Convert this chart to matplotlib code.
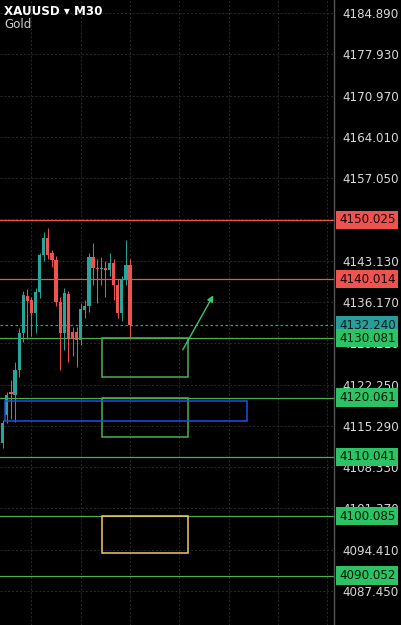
import matplotlib.pyplot as plt
import matplotlib.patches as mpatches

# M30 candles
opens  = [4112.4, 4117.1, 4121.0, 4120.5, 4124.7, 4131.0, 4137.2, 4136.5, 4134.3, 4137.9,
          4144.1, 4147.0, 4144.4, 4143.3, 4136.2, 4131.0, 4137.5, 4131.1, 4131.1, 4129.8,
          4134.8, 4135.5, 4143.8, 4141.9, 4141.8, 4141.9, 4141.6, 4142.8, 4139.0, 4134.3,
          4139.9, 4142.4]
highs  = [4116.2, 4121.0, 4123.0, 4126.0, 4131.8, 4138.0, 4138.4, 4137.0, 4138.5, 4144.5,
          4148.0, 4148.7, 4145.0, 4144.0, 4137.0, 4138.5, 4138.0, 4132.0, 4132.0, 4136.0,
          4136.5, 4144.5, 4146.1, 4143.5, 4143.8, 4143.0, 4144.5, 4143.5, 4140.0, 4140.5,
          4146.6, 4143.5]
lows   = [4111.5, 4115.8, 4116.5, 4116.0, 4123.5, 4129.5, 4130.0, 4130.5, 4131.0, 4136.8,
          4143.0, 4143.5, 4142.0, 4135.5, 4124.7, 4128.0, 4126.0, 4127.0, 4125.2, 4129.0,
          4133.5, 4134.5, 4139.0, 4136.0, 4139.0, 4137.0, 4140.5, 4136.5, 4133.5, 4133.0,
          4139.0, 4130.0]
closes = [4115.8, 4120.5, 4120.6, 4124.7, 4131.0, 4137.4, 4136.3, 4134.3, 4137.9, 4144.1,
          4147.0, 4144.1, 4143.3, 4136.2, 4131.0, 4137.7, 4130.1, 4129.9, 4129.8, 4135.0,
          4135.5, 4143.8, 4141.9, 4141.8, 4141.9, 4141.6, 4142.8, 4139.0, 4134.3, 4139.9,
          4142.4, 4132.24]

last_price = 4132.240
res_levels = [4150.025, 4140.014]
sup_levels = [4130.081, 4120.061, 4110.041, 4100.085, 4090.052]

price_ticks = [4184.890, 4177.930, 4170.970, 4164.010, 4157.050, 4150.090, 4143.130,
               4136.170, 4129.210, 4122.250, 4115.290, 4108.330, 4101.370, 4094.410,
               4087.450]
hidden_ticks = [4150.090]  # fully covered by the 4150.025 tag
time_grid = [7, 19, 31, 43, 55, 67, 79]

# drawn zones: (bar start, bar end, low, high, colour)
zones = [(24.1, 45.2, 4123.53, 4130.08, '#4caf50'),
         (24.1, 45.2, 4113.41, 4120.06, '#4caf50'),
         (0.56, 59.4, 4116.11, 4119.48, '#2150e6'),
         (24.1, 45.2, 4093.86, 4100.09, '#f7c46c')]
arrow_from = (43.5, 4127.7)
arrow_to = (51.6, 4137.7)

up_col = '#26a69a'
dn_col = '#ef5350'
lvl_green = '#4caf50'

fig = plt.figure(figsize=(4.02, 6.25), dpi=100, facecolor='black')
ax = fig.add_axes([0, 0, 334 / 402, 1])
ax.set_facecolor('black')
ax.set_xlim(-0.657, 80.65)
ax.set_ylim(4081.72, 4187.08)

# grid
for p in price_ticks:
    ax.axhline(p, color='#2b2b2b', lw=0.7, ls=(0, (2, 2)), zorder=0)
for t in time_grid:
    ax.axvline(t, color='#2b2b2b', lw=0.7, ls=(0, (2, 2)), zorder=0)

# candles
for i in range(len(opens)):
    col = up_col if closes[i] >= opens[i] else dn_col
    ax.vlines(i, lows[i], highs[i], color=col, lw=0.7, zorder=3)
    lo = min(opens[i], closes[i])
    h = max(abs(closes[i] - opens[i]), 0.12)
    ax.add_patch(mpatches.Rectangle((i - 0.39, lo), 0.78, h, facecolor=col,
                                    edgecolor='none', zorder=4))

# levels
for p in res_levels:
    ax.axhline(p, color=dn_col, lw=0.9, zorder=2)
for p in sup_levels:
    ax.axhline(p, color=lvl_green, lw=0.9, zorder=2)
ax.axhline(last_price, color='#26a69a', lw=0.9, ls=(0, (2, 2)), zorder=2)

# zones
for x0, x1, lo, hi, col in zones:
    ax.add_patch(mpatches.Rectangle((x0, lo), x1 - x0, hi - lo, facecolor='none',
                                    edgecolor=col, lw=1.1, zorder=5))

ax.annotate('', xy=arrow_to, xytext=arrow_from,
            arrowprops=dict(arrowstyle='-|>', color='#3ec46d', lw=1.0,
                            mutation_scale=9), zorder=6)

# price scale on the right
ax.yaxis.tick_right()
ax.set_yticks(price_ticks)
ax.set_yticklabels(['' if p in hidden_ticks else f'{p:.3f}' for p in price_ticks])
ax.tick_params(axis='y', length=0, pad=6, labelsize=8.6, labelcolor='#d8d8d8')
ax.set_xticks([])
for s in ['top', 'left', 'bottom']:
    ax.spines[s].set_visible(False)
ax.spines['right'].set_color('#555555')
ax.spines['right'].set_linewidth(1.0)

ytr = ax.get_yaxis_transform()
labels = [(p, dn_col, '#1a0000') for p in res_levels]
labels += [(last_price, '#2a9d9a', '#002020')]
labels += [(p, '#2ec266', '#001a00') for p in sup_levels]
for p, bg, fg in labels:
    ax.text(1.015, p, f'{p:.3f}', transform=ytr, ha='left', va='center',
            fontsize=8.6, color=fg, clip_on=False, zorder=10,
            bbox=dict(boxstyle='square,pad=0.22', facecolor=bg, edgecolor='none'))

# header
ax.text(0.012, 0.982, 'XAUUSD \u25be M30', transform=ax.transAxes, ha='left', va='center',
        fontsize=8.6, color='white', fontweight='bold', zorder=10)
ax.text(0.012, 0.961, 'Gold', transform=ax.transAxes, ha='left', va='center',
        fontsize=8.6, color='#d0d0d0', zorder=10)

fig.savefig('out.png', dpi=100, facecolor='black')
